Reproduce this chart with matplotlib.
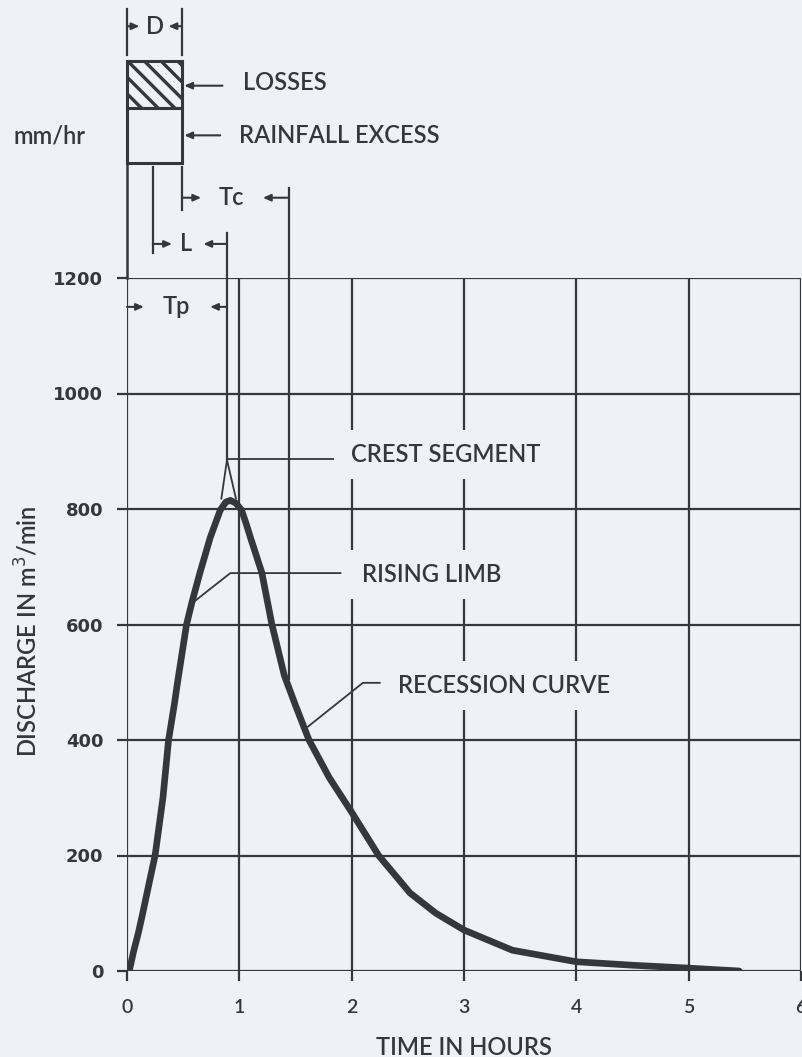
import matplotlib.pyplot as plt
from matplotlib.patches import Rectangle

# hydrograph
time_hr = [0.02, 0.06, 0.10, 0.14, 0.20, 0.25, 0.32, 0.37, 0.42, 0.45, 0.49, 0.53,
           0.58, 0.65, 0.74, 0.83, 0.88, 0.92, 0.97, 1.02, 1.06, 1.10, 1.15, 1.20,
           1.29, 1.40, 1.50, 1.62, 1.80, 2.00, 2.24, 2.52, 2.75, 3.00, 3.43, 4.00,
           4.50, 5.00, 5.45]
discharge = [0, 35, 65, 100, 155, 200, 300, 400, 460, 500, 550, 600,
             640, 690, 750, 798, 812, 815, 810, 798, 775, 750, 720, 690,
             600, 512, 460, 400, 335, 275, 200, 135, 100, 71, 36, 16,
             10, 5, 0]
x_ticks = [0, 1, 2, 3, 4, 5, 6]
y_ticks = [0, 200, 400, 600, 800, 1000, 1200]

# rainfall block and time markers (hours)
storm_d = 0.49
lag_start = 0.23
peak_t = 0.89
tc_end = 1.44

bg = '#eef1f6'
ink = '#34373d'
plt.rcParams['hatch.linewidth'] = 2.4
plt.rcParams['hatch.color'] = ink

fig = plt.figure(figsize=(8.03, 10.57), dpi=100, facecolor=bg)
ax = fig.add_axes([127 / 803, 1 - 971 / 1057, (801 - 127) / 803, (971 - 278) / 1057])
ax.set_facecolor(bg)
ax.set_xlim(0, 6)
ax.set_ylim(0, 1200)
for s in ax.spines.values():
    s.set_visible(False)
ax.set_xticks(x_ticks)
ax.set_yticks(y_ticks)
ax.grid(True, color=ink, lw=1.6)
ax.set_axisbelow(True)
ax.tick_params(axis='both', length=7, width=1.6, color=ink)
ax.tick_params(axis='y', pad=10, labelsize=13, labelcolor=ink)
ax.tick_params(axis='x', pad=13, labelsize=14, labelcolor=ink)
for t in ax.get_yticklabels():
    t.set_fontweight('bold')
for t in ax.get_xticklabels():
    t.set_family('Lato')
    t.set_fontweight('semibold')

# the hydrograph itself
ax.plot(time_hr, discharge, color=ink, lw=4.8, solid_capstyle='round', zorder=4)

lab = dict(family='Lato', fontsize=17, color=ink, fontweight='semibold')
box = dict(boxstyle='square,pad=0.55', facecolor=bg, edgecolor='none')


def seg(xs, ys, lw=1.6):
    ax.plot(xs, ys, color=ink, lw=lw, clip_on=False, zorder=3)


def arrow(tail, head):
    ax.annotate('', xy=head, xytext=tail, annotation_clip=False,
                arrowprops=dict(arrowstyle='-|>,head_length=0.45,head_width=0.2',
                                color=ink, lw=1.5, shrinkA=0, shrinkB=0))


# rainfall block: losses on top of rainfall excess
ax.add_patch(Rectangle((0, 1494), storm_d, 1576 - 1494, facecolor=bg, edgecolor=ink,
                       hatch='\\\\', lw=2.2, clip_on=False))
ax.add_patch(Rectangle((0, 1399), storm_d, 1494 - 1399, facecolor=bg, edgecolor=ink,
                       lw=2.2, clip_on=False))

# D bracket
seg([0, 0], [1586, 1666])
seg([storm_d, storm_d], [1586, 1666])
arrow((0, 1636), (0.11, 1636))
arrow((storm_d, 1636), (0.37, 1636))
ax.text(0.245, 1636, 'D', ha='center', va='center', **lab)

ax.text(-0.69, 1446, 'mm/hr', ha='center', va='center', **lab)
arrow((0.85, 1533), (storm_d + 0.02, 1533))
ax.text(1.03, 1538, 'LOSSES', ha='left', va='center', **lab)
arrow((0.83, 1447), (storm_d + 0.02, 1447))
ax.text(1.0, 1446, 'RAINFALL EXCESS', ha='left', va='center', **lab)

# x = 0 line up to the block, block edge and lag markers
seg([0, 0], [1200, 1399], lw=1.8)
seg([storm_d, storm_d], [1318, 1392])
seg([lag_start, lag_start], [1243, 1392])

# Tc
seg([tc_end, tc_end], [505, 1356])
arrow((storm_d, 1339), (0.66, 1339))
arrow((tc_end, 1339), (1.21, 1339))
ax.text(0.93, 1339, 'Tc', ha='center', va='center', **lab)

# L
seg([peak_t, peak_t], [885, 1278])
arrow((lag_start, 1259), (0.40, 1259))
arrow((peak_t, 1259), (0.68, 1259))
ax.text(0.53, 1259, 'L', ha='center', va='center', **lab)

# Tp
arrow((0, 1150), (0.15, 1150))
arrow((peak_t, 1150), (0.74, 1150))
ax.text(0.44, 1150, 'Tp', ha='center', va='center', **lab)

# crest segment
seg([0.84, peak_t, 0.97], [818, 885, 818], lw=1.3)
seg([peak_t, 1.83], [887, 887], lw=1.3)
ax.text(1.99, 895, 'CREST SEGMENT', ha='left', va='center', bbox=box, zorder=5, **lab)

# rising limb
seg([0.58, 0.92, 1.90], [637, 689, 689], lw=1.3)
ax.text(2.09, 686, 'RISING LIMB', ha='left', va='center', bbox=box, zorder=5, **lab)

# recession curve
seg([1.61, 2.10, 2.25], [423, 499, 499], lw=1.3)
ax.text(2.41, 495, 'RECESSION CURVE', ha='left', va='center', bbox=box, zorder=5, **lab)

# axis titles
ax.text(-0.147, 0.49, 'DISCHARGE IN m$^3$/min', transform=ax.transAxes, rotation=90,
        ha='center', va='center', **lab)
ax.text(0.5, -0.11, 'TIME IN HOURS', transform=ax.transAxes,
        ha='center', va='center', **lab)

fig.savefig('out.png', dpi=100, facecolor=bg)
